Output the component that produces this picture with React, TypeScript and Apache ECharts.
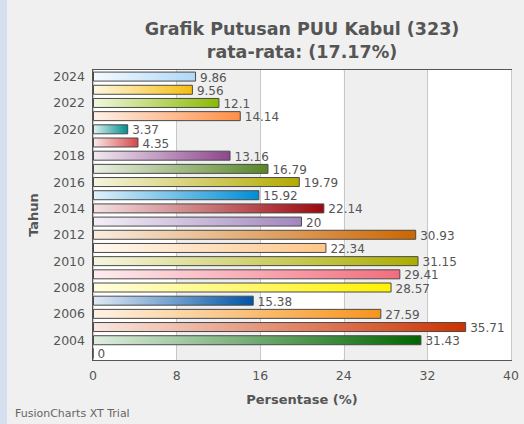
import React, { useEffect, useRef } from "react";
import * as echarts from "echarts";

const years = ["2024","2023","2022","2021","2020","2019","2018","2017","2016","2015","2014","2013","2012","2011","2010","2009","2008","2007","2006","2005","2004","2003"];
const values = [9.86, 9.56, 12.1, 14.14, 3.37, 4.35, 13.16, 16.79, 19.79, 15.92, 22.14, 20, 30.93, 22.34, 31.15, 29.41, 28.57, 15.38, 27.59, 35.71, 31.43, 0];
const colors = ["#AFD8F8","#F6BD0F","#8BBA00","#FF8E46","#008E8E","#D64646","#8E468E","#588526","#B3AA00","#008ED6","#9D080D","#A186BE","#CC6600","#FDC689","#ABAD00","#F26D7D","#FFF200","#0054A6","#F7941C","#CC3300","#006600","#663300"];
const xTicks = { min: 0, max: 40, interval: 8 };
const titleLines = ["Grafik Putusan PUU Kabul (323)", "rata-rata: (17.17%)"];

const FONT = "DejaVu Sans";

function mixWhite(hex: string, t: number) {
  const n = parseInt(hex.slice(1), 16);
  const r = (n >> 16) & 255, g = (n >> 8) & 255, b = n & 255;
  const m = (c: number) => Math.round(c + (255 - c) * t);
  return `rgb(${m(r)},${m(g)},${m(b)})`;
}

export default function App() {
  const ref = useRef<HTMLDivElement>(null);
  useEffect(() => {
    if (!ref.current) return;
    const chart = echarts.init(ref.current, null, { renderer: "svg" });
    const data = values.map((v, i) => ({
      value: v,
      itemStyle: {
        color: new echarts.graphic.LinearGradient(0, 0, 1, 0, [
          { offset: 0, color: mixWhite(colors[i], 0.88) },
          { offset: 1, color: colors[i] },
        ]),
        borderColor: "#4a4a4a",
        borderWidth: 1,
      },
    }));
    chart.setOption({
      animation: false,
      backgroundColor: "#f0f0f0",
      title: {
        text: titleLines.join("\n"),
        left: 297,
        top: 12,
        textAlign: "center",
        textStyle: { fontFamily: FONT, fontSize: 17.5, fontWeight: "bold", color: "#555", lineHeight: 23 },
      },
      graphic: [
        { type: "rect", left: 0, top: 0, shape: { x: 0, y: 0, width: 7, height: 424 }, style: { fill: "#d5e0ee" } },
        { type: "text", left: 15, top: 408, style: { text: "FusionCharts XT Trial", fontFamily: FONT, fontSize: 11, fill: "#666" } },
      ],
      grid: {
        left: 93, right: 13, top: 70, bottom: 64,
        show: true, backgroundColor: "#ffffff", borderColor: "#555", borderWidth: 2,
      },
      xAxis: {
        type: "value",
        min: xTicks.min, max: xTicks.max, interval: xTicks.interval,
        name: "Persentase (%)",
        nameLocation: "middle",
        nameGap: 33,
        nameTextStyle: { fontFamily: FONT, fontSize: 13, fontWeight: "bold", color: "#555" },
        axisLine: { show: false },
        axisTick: { show: false },
        axisLabel: { fontFamily: FONT, fontSize: 12.5, color: "#555", margin: 9 },
        splitLine: { show: true, lineStyle: { color: "#c8c8c8", width: 1 } },
        splitArea: { show: true, areaStyle: { color: ["#ffffff", "#efefef"] } },
      },
      yAxis: {
        type: "category",
        data: years,
        inverse: true,
        name: "Tahun",
        nameLocation: "middle",
        nameGap: 53,
        nameRotate: 90,
        nameTextStyle: { fontFamily: FONT, fontSize: 13, fontWeight: "bold", color: "#555" },
        axisLine: { show: false },
        axisTick: { show: false },
        axisLabel: { interval: 1, fontFamily: FONT, fontSize: 12.5, color: "#555", margin: 8 },
        splitLine: { show: false },
      },
      series: [
        {
          type: "bar",
          data,
          barWidth: 10,
          label: {
            show: true,
            position: "right",
            distance: 4,
            offset: [0, 1],
            fontFamily: FONT,
            fontSize: 12,
            lineHeight: 12,
            color: "#555",
          },
        },
      ],
    });
    return () => chart.dispose();
  }, []);
  return (
    <div
      ref={ref}
      style={{ position: "fixed", left: 0, top: 0, width: 524, height: 424 }}
    />
  );
}
